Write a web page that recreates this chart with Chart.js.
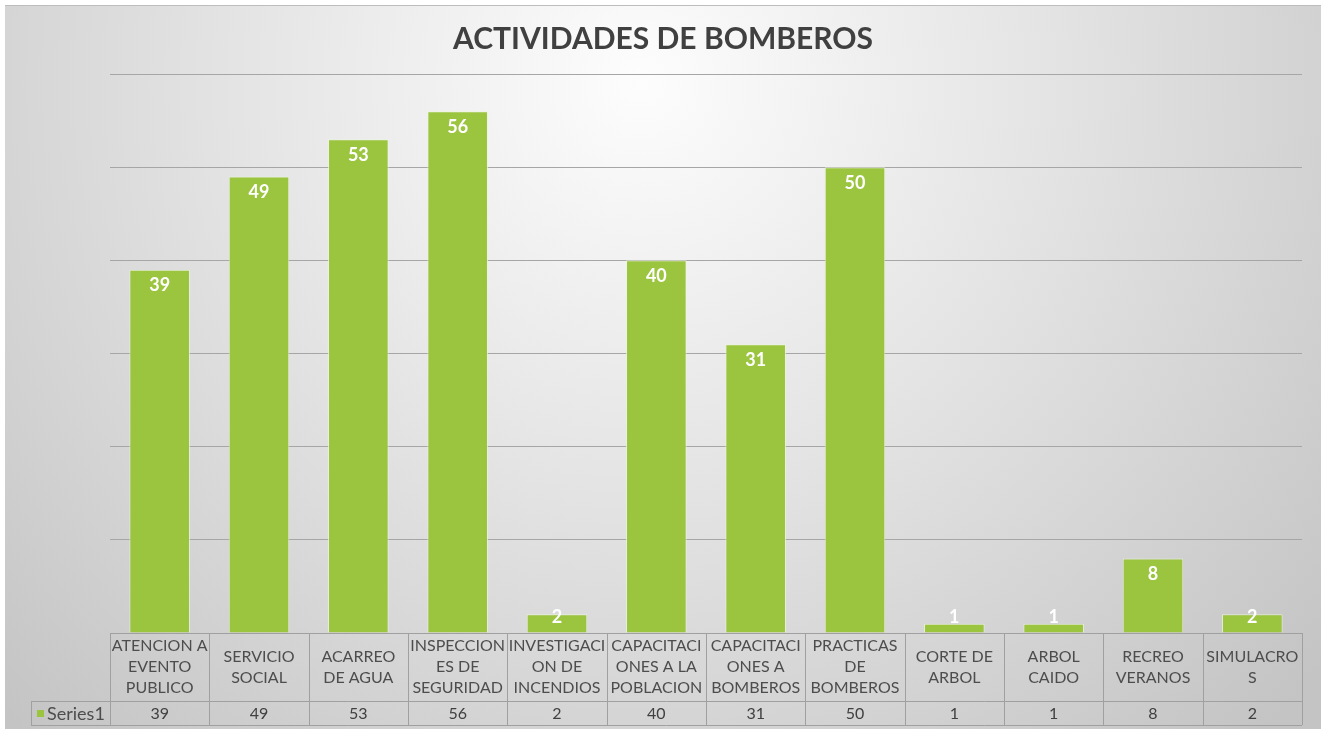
<!DOCTYPE html>
<html>
<head>
<meta charset="utf-8">
<script src="https://cdn.jsdelivr.net/npm/chart.js@4/dist/chart.umd.min.js"></script>
<style>
    body { margin: 0; background: #ffffff; }
    #wrap { width: 1326px; height: 729px; }
</style>
</head>
<body>
<div id="wrap"><canvas id="chart" width="1326" height="729"></canvas></div>
<script>
// Kategorien (mehrzeilig wie in der Datentabelle)
const kategorien = [
    ['ATENCION A', 'EVENTO', 'PUBLICO'],
    ['SERVICIO', 'SOCIAL'],
    ['ACARREO', 'DE AGUA'],
    ['INSPECCION', 'ES DE', 'SEGURIDAD'],
    ['INVESTIGACI', 'ON DE', 'INCENDIOS'],
    ['CAPACITACI', 'ONES A LA', 'POBLACION'],
    ['CAPACITACI', 'ONES A', 'BOMBEROS'],
    ['PRACTICAS', 'DE', 'BOMBEROS'],
    ['CORTE DE', 'ARBOL'],
    ['ARBOL', 'CAIDO'],
    ['RECREO', 'VERANOS'],
    ['SIMULACRO', 'S']
];

// Werte der Serie
const serieName = 'Series1';
const werte = [39, 49, 53, 56, 2, 40, 31, 50, 1, 1, 8, 2];

// Achse
const achseMax = 60;
const achseSchritt = 10;

const gruen = '#9bc43f';
const schrift = 'Lato, "Open Sans", sans-serif';

// Hintergrund mit Verlauf
const hintergrund = {
    id: 'hintergrund',
    beforeDraw(chart) {
        const ctx = chart.ctx;
        ctx.save();
        ctx.fillStyle = '#ffffff';
        ctx.fillRect(0, 0, chart.width, chart.height);
        const g = ctx.createRadialGradient(640, 80, 0, 640, 80, 900);
        g.addColorStop(0, '#fdfdfd');
        g.addColorStop(0.45, '#e4e4e4');
        g.addColorStop(1, '#c4c4c4');
        ctx.fillStyle = g;
        ctx.fillRect(5, 5, 1316, 724);
        ctx.fillStyle = '#bdbdbd';
        ctx.fillRect(5, 5, 1316, 1);
        ctx.restore();
    }
};

// Werte-Beschriftung oben in den Balken
const balkenWerte = {
    id: 'balkenWerte',
    afterDatasetsDraw(chart) {
        const ctx = chart.ctx;
        const meta = chart.getDatasetMeta(0);
        const basis = chart.scales.y.getPixelForValue(0);
        ctx.save();
        ctx.font = 'bold 18px ' + schrift;
        ctx.fillStyle = '#ffffff';
        ctx.textAlign = 'center';
        ctx.textBaseline = 'middle';
        meta.data.forEach((bar, i) => {
            const y = Math.min(bar.y + 16, basis - 16);
            ctx.fillText(String(chart.data.datasets[0].data[i]), bar.x, y);
        });
        ctx.restore();
    }
};

// Datentabelle unter der Grafik
const datenTabelle = {
    id: 'datenTabelle',
    afterDraw(chart) {
        const ctx = chart.ctx;
        const x = chart.scales.x;
        const oben = chart.chartArea.bottom;
        const mitte = oben + 68;
        const unten = mitte + 24;
        const links = chart.chartArea.left;
        const rechts = chart.chartArea.right;
        const legLinks = 31;
        const n = chart.data.labels.length;
        const breite = (rechts - links) / n;

        ctx.save();
        ctx.strokeStyle = '#a0a0a0';
        ctx.lineWidth = 1;
        ctx.beginPath();
        ctx.moveTo(links, oben + 0.5); ctx.lineTo(rechts, oben + 0.5);
        ctx.moveTo(legLinks, mitte + 0.5); ctx.lineTo(rechts, mitte + 0.5);
        ctx.moveTo(legLinks, unten + 0.5); ctx.lineTo(rechts, unten + 0.5);
        ctx.moveTo(legLinks + 0.5, mitte); ctx.lineTo(legLinks + 0.5, unten);
        for (let i = 0; i <= n; i++) {
            const px = Math.round(x.getPixelForValue(i) - breite / 2) + 0.5;
            ctx.moveTo(px, oben); ctx.lineTo(px, unten);
        }
        ctx.stroke();

        ctx.font = '16px ' + schrift;
        ctx.textAlign = 'center';
        ctx.textBaseline = 'middle';
        chart.data.labels.forEach((zeilen, i) => {
            const cx = x.getPixelForValue(i);
            const start = (oben + mitte) / 2 - (zeilen.length - 1) * 10.5;
            ctx.fillStyle = '#4d4d4d';
            zeilen.forEach((t, k) => ctx.fillText(t, cx, start + k * 21));
            ctx.fillStyle = '#404040';
            ctx.fillText(String(chart.data.datasets[0].data[i]), cx, (mitte + unten) / 2 + 1);
        });

        // Legendenzelle
        ctx.fillStyle = gruen;
        ctx.fillRect(37, mitte + 9, 7, 7);
        ctx.fillStyle = '#4d4d4d';
        ctx.textAlign = 'left';
        ctx.font = '18px ' + schrift;
        ctx.fillText(serieName, 47, (mitte + unten) / 2 + 1);
        ctx.restore();
    }
};

new Chart(document.getElementById('chart'), {
    type: 'bar',
    data: {
        labels: kategorien,
        datasets: [{
            label: serieName,
            data: werte,
            backgroundColor: gruen,
            borderColor: 'rgba(235, 245, 215, 0.8)',
            borderWidth: 1,
            barPercentage: 0.61,
            categoryPercentage: 1
        }]
    },
    options: {
        responsive: false,
        animation: false,
        devicePixelRatio: 1,
        layout: { padding: { top: 5, left: 24, right: 24, bottom: 0 } },
        plugins: {
            legend: { display: false },
            tooltip: { enabled: false },
            title: {
                display: true,
                text: 'ACTIVIDADES DE BOMBEROS',
                color: '#404040',
                font: { family: schrift, size: 30, weight: 'bold', lineHeight: 1.2 },
                padding: { top: 16, bottom: 17 }
            }
        },
        scales: {
            x: {
                ticks: { display: false },
                grid: { display: false },
                border: { display: false },
                afterFit(s) { s.height = 96; }
            },
            y: {
                min: 0,
                max: achseMax,
                ticks: { display: false, stepSize: achseSchritt },
                grid: { color: '#a6a6a6', lineWidth: 1, drawTicks: false },
                border: { display: false },
                afterFit(s) { s.width = 86; }
            }
        }
    },
    plugins: [hintergrund, balkenWerte, datenTabelle]
});
</script>
</body>
</html>
